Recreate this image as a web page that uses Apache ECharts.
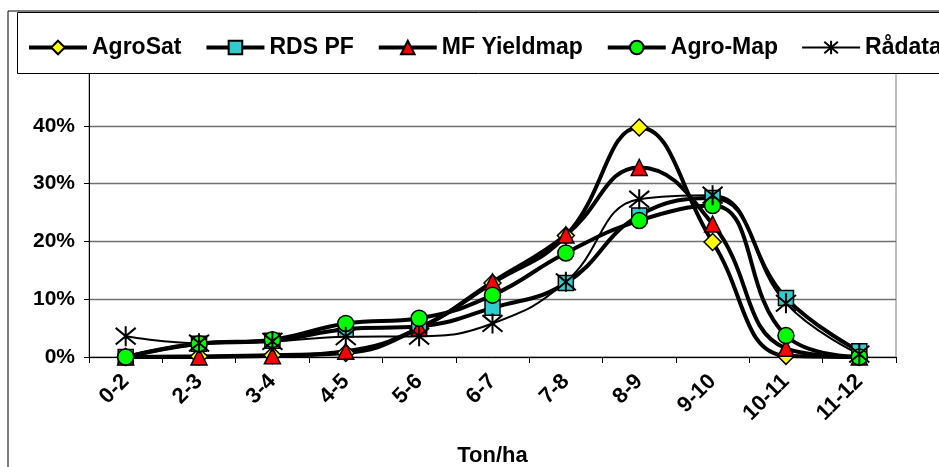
<!DOCTYPE html>
<html><head><meta charset="utf-8">
<script src="https://cdn.jsdelivr.net/npm/echarts@6/dist/echarts.min.js"></script>
<style>html,body{margin:0;padding:0;background:#fff}#c{width:939px;height:467px}</style>
</head><body><div id="c"></div>
<script>
var categories = ['0-2','2-3','3-4','4-5','5-6','6-7','7-8','8-9','9-10','10-11','11-12'];
var agroSat   = [0, 0.1, 0.3, 0.7, 5.0, 12.8, 21.0, 39.7, 19.9, 0.2, 0];
var rdsPF     = [0, 2.3, 2.8, 4.8, 5.3, 8.5, 12.8, 24.5, 27.5, 10.2, 1.0];
var mfYield   = [0, 0, 0.2, 1.0, 5.0, 13.0, 21.1, 32.8, 23.0, 1.5, 0];
var agroMap   = [0, 2.3, 3.0, 5.8, 6.7, 10.7, 18.0, 23.6, 26.2, 3.7, 0];
var raadata   = [3.6, 2.4, 2.7, 3.5, 3.6, 5.8, 13.0, 27.3, 28.0, 9.3, 0.5];
var seriesNames = ['AgroSat', 'RDS PF', 'MF Yieldmap', 'Agro-Map', 'Rådata'];
var yTicks = {min: 0, max: 50, interval: 10};

var FONT = '"Liberation Sans", Arial, sans-serif';
var star = 'path://M0,0L10,10M10,0L0,10M5,-1L5,11';
var chart = echarts.init(document.getElementById('c'), null, {renderer: 'canvas'});
function thick(name, data, symbol, color, size) {
  return {
    name: name, type: 'line', data: data, smooth: 0.45,
    symbol: symbol, symbolSize: size,
    lineStyle: {color: '#000', width: 4},
    itemStyle: {color: color, borderColor: '#000', borderWidth: 1.5},
    emphasis: {disabled: true}
  };
}
chart.setOption({
  animation: false,
  textStyle: {fontFamily: FONT},
  grid: {left: 89, top: 68, width: 807, height: 289, containLabel: false, outerBoundsMode: 'none',
         show: true, borderColor: '#808080', borderWidth: 1, backgroundColor: 'transparent'},
  legend: {
    left: 22, top: 31, width: 1400, itemWidth: 58, itemHeight: 17, itemGap: 23,
    data: [
      {name: seriesNames[0], lineStyle: {width: 4}},
      {name: seriesNames[1], lineStyle: {width: 4}},
      {name: seriesNames[2], lineStyle: {width: 4}},
      {name: seriesNames[3], lineStyle: {width: 4}},
      {name: seriesNames[4], lineStyle: {width: 2}}
    ],
    textStyle: {fontFamily: FONT, fontWeight: 'bold', fontSize: 23, color: '#000'},
    z: 20
  },
  graphic: [
    {type: 'rect', z: -10, shape: {x: 8, y: 11, width: 1000, height: 500}, style: {fill: '#fff', stroke: '#000', lineWidth: 1}},
    {type: 'rect', z: 15, shape: {x: 17.5, y: 12.5, width: 1000, height: 61}, style: {fill: '#fff', stroke: '#000', lineWidth: 1}}
  ],
  xAxis: {
    type: 'category', data: categories, boundaryGap: true,
    name: 'Ton/ha', nameLocation: 'middle', nameGap: 88,
    nameTextStyle: {fontFamily: FONT, fontWeight: 'bold', fontSize: 22, color: '#000'},
    axisLine: {lineStyle: {color: '#000', width: 1}},
    axisTick: {show: true, length: 6, lineStyle: {color: '#000'}},
    axisLabel: {rotate: 45, margin: 21, fontFamily: FONT, fontWeight: 'bold', fontSize: 22, color: '#000'}
  },
  yAxis: {
    type: 'value', min: yTicks.min, max: yTicks.max, interval: yTicks.interval,
    axisLine: {show: true, lineStyle: {color: '#000', width: 1}},
    axisTick: {show: true, length: 5, lineStyle: {color: '#000'}},
    splitLine: {lineStyle: {color: '#707070', width: 1.3}},
    axisLabel: {formatter: '{value}%', margin: 14, fontFamily: FONT, fontWeight: 'bold', fontSize: 21, color: '#000'}
  },
  series: [
    thick(seriesNames[0], agroSat, 'diamond', '#FFFF00', 17),
    thick(seriesNames[1], rdsPF, 'rect', '#33CCCC', 15),
    thick(seriesNames[2], mfYield, 'triangle', '#FF0000', 16),
    thick(seriesNames[3], agroMap, 'circle', '#00FF00', 16),
    {
      name: seriesNames[4], type: 'line', data: raadata, smooth: 0.45,
      symbol: star, symbolSize: 20,
      lineStyle: {color: '#000', width: 2},
      itemStyle: {color: 'rgba(0,0,0,0)', borderColor: '#000', borderWidth: 2},
      emphasis: {disabled: true}
    }
  ]
});
</script></body></html>
